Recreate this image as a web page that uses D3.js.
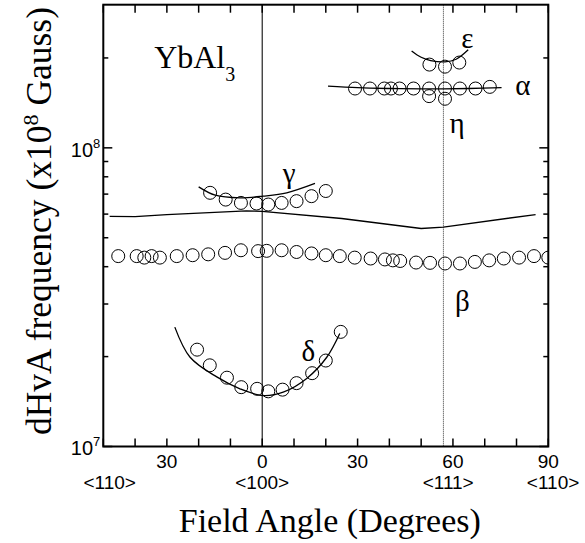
<!DOCTYPE html>
<html>
<head>
<meta charset="utf-8">
<script src="https://cdn.jsdelivr.net/npm/d3@7"></script>
<style>
  body { margin: 0; background: #fff; }
  .serif { font-family: "Liberation Serif", "Times New Roman", serif; }
  .sans { font-family: "Liberation Sans", Arial, sans-serif; }
</style>
</head>
<body>
<div id="chart"></div>
<script>
// frequencies in units of 10^7 Gauss, angles in degrees
var betaAngle = [-45.3,-39.5,-37.1,-34.8,-32.2,-26.9,-21.9,-17.0,-11.7,-6.7,-1.3,1.4,6.1,10.8,15.5,20.0,24.4,29.1,34.1,38.6,41.1,43.4,48.4,52.8,57.5,62.2,66.9,71.4,76.0,80.8,85.5,90];
var betaFreq  = [4.34,4.34,4.29,4.34,4.29,4.34,4.37,4.40,4.45,4.54,4.51,4.52,4.54,4.48,4.43,4.37,4.34,4.29,4.26,4.23,4.20,4.18,4.13,4.12,4.10,4.10,4.15,4.20,4.26,4.29,4.34,4.29];

var gammaAngle = [-16.4,-11.5,-6.7,-1.8,1.9,6.1,10.8,15.5,20.0];
var gammaFreq  = [7.07,6.71,6.54,6.51,6.46,6.54,6.63,6.89,7.17];
var gammaFitAngle = [-20,-14.8,-7,0.3,7.7,16.6];
var gammaFitFreq  = [7.40,6.94,6.80,6.89,7.07,7.60];

var deltaAngle = [-20.5,-16.5,-11.1,-6.6,-1.6,1.9,6.4,10.8,15.7,20.0,24.7];
var deltaFreq  = [2.11,1.87,1.70,1.58,1.56,1.53,1.55,1.63,1.76,1.94,2.42];
var deltaFitAngle = [-27.5,-22.7,-14.3,-7.0,0.3,6.6,14.0,20.3,24.4];
var deltaFitFreq  = [2.51,1.99,1.71,1.56,1.48,1.52,1.69,1.99,2.39];

var alphaAngle = [29.2,33.9,38.4,40.5,43.2,47.6,52.5,57.5,62.2,67.1,71.6];
var alphaFreq  = [15.8,15.8,15.8,15.8,15.8,15.8,15.8,15.8,15.8,15.8,16.0];
var alphaFitAngle = [20.7,30,40,50,57,65,75.3];
var alphaFitFreq  = [16.1,15.9,15.8,15.75,15.75,15.8,15.9];

var etaAngle = [52.5,57.5];
var etaFreq  = [14.9,14.6];

var epsAngle = [52.6,57.5,62.0];
var epsFreq  = [19.0,18.7,19.3];
var epsFitAngle = [47.0,50,53,57.5,61,64.8];
var epsFitFreq  = [21.1,20.1,19.6,19.4,19.8,21.3];

// unlabeled calculated branch
var calcAngle = [-48,-40,-30,-5,0,25,50,57,86];
var calcFreq  = [5.90,5.88,5.98,6.15,6.13,5.80,5.37,5.43,5.98];

var xTickValues = [-50,-40,-30,-20,-10,0,10,20,30,40,50,60,70,80,90];
var xLabelValues = [-30,0,30,60,90];
var dirNames  = ["<110>","<100>","<111>","<110>"];
var dirAngles = [-48,0,58.5,91.5];
var yMinor = [2,3,4,5,6,7,8,9,20];   // x10^7
var yMajor = [1,10];                   // x10^7
var yMajorExp = ["7","8"];

var branchNames = ["\u03b3","\u03b5","\u03b1","\u03b7","\u03b4","\u03b2"];
var branchAngle = [8.5,64.5,82,61.3,14.5,63];
var branchFreq  = [7.65,21.6,15.0,11.2,1.94,2.84];

var margin = {top: 4.7, left: 103.3},
    width = 445, height = 441.8;

var svg = d3.select("#chart").append("svg")
    .attr("width", 585).attr("height", 543);

var g = svg.append("g").attr("transform", "translate(" + margin.left + "," + margin.top + ")");

var x = d3.scaleLinear().domain([-50, 90]).range([0, width]);
var y = d3.scaleLog().domain([1e7, 3.015e8]).range([height, 0]);
function Y(v) { return y(v * 1e7); }

g.append("clipPath").attr("id", "clip")
  .append("rect").attr("width", width).attr("height", height);

// reference lines
g.append("line").attr("x1", x(0)).attr("x2", x(0)).attr("y1", 0).attr("y2", height)
  .attr("stroke", "#222").attr("stroke-width", 1.2);
g.append("line").attr("x1", x(57)).attr("x2", x(57)).attr("y1", 0).attr("y2", height)
  .attr("stroke", "#333").attr("stroke-width", 1).attr("stroke-dasharray", "1,1");

var line = d3.line().x(function(d) { return x(d[0]); }).y(function(d) { return Y(d[1]); });
var curve = d3.line().curve(d3.curveCatmullRom).x(function(d) { return x(d[0]); }).y(function(d) { return Y(d[1]); });

var plot = g.append("g").attr("clip-path", "url(#clip)");

function drawLine(a, f, gen) {
  plot.append("path").datum(d3.zip(a, f)).attr("d", gen)
    .attr("fill", "none").attr("stroke", "#000").attr("stroke-width", 1.3);
}
function drawPoints(a, f) {
  plot.append("g").selectAll("circle").data(d3.zip(a, f)).enter().append("circle")
    .attr("cx", function(d) { return x(d[0]); })
    .attr("cy", function(d) { return Y(d[1]); })
    .attr("r", 6.5).attr("fill", "none").attr("stroke", "#000").attr("stroke-width", 1);
}

drawLine(calcAngle, calcFreq, line);
drawLine(gammaFitAngle, gammaFitFreq, curve);
drawLine(deltaFitAngle, deltaFitFreq, curve);
drawLine(alphaFitAngle, alphaFitFreq, curve);
drawLine(epsFitAngle, epsFitFreq, curve);

drawPoints(betaAngle, betaFreq);
drawPoints(gammaAngle, gammaFreq);
drawPoints(deltaAngle, deltaFreq);
drawPoints(alphaAngle, alphaFreq);
drawPoints(etaAngle, etaFreq);
drawPoints(epsAngle, epsFreq);

// branch labels
g.selectAll(".branch").data(d3.zip(branchNames, branchAngle, branchFreq)).enter().append("text")
  .attr("class", "serif")
  .attr("x", function(d) { return x(d[1]); })
  .attr("y", function(d) { return Y(d[2]); })
  .attr("text-anchor", "middle")
  .style("font-size", "29px")
  .text(function(d) { return d[0]; });

// frame
g.append("rect").attr("width", width).attr("height", height)
  .attr("fill", "none").attr("stroke", "#000").attr("stroke-width", 2);

// x ticks, inward on bottom and top
g.selectAll(".xtb").data(xTickValues).enter().append("line")
  .attr("x1", function(d) { return x(d); }).attr("x2", function(d) { return x(d); })
  .attr("y1", height).attr("y2", height - 8).attr("stroke", "#000").attr("stroke-width", 1.5);
g.selectAll(".xtt").data(xTickValues).enter().append("line")
  .attr("x1", function(d) { return x(d); }).attr("x2", function(d) { return x(d); })
  .attr("y1", 0).attr("y2", 8).attr("stroke", "#000").attr("stroke-width", 1.5);

g.selectAll(".xl").data(xLabelValues).enter().append("text")
  .attr("class", "sans").attr("x", function(d) { return x(d); }).attr("y", height + 22)
  .attr("text-anchor", "middle").style("font-size", "19px")
  .text(function(d) { return Math.abs(d); });

g.selectAll(".dl").data(d3.zip(dirNames, dirAngles)).enter().append("text")
  .attr("class", "sans").attr("x", function(d) { return x(d[1]); }).attr("y", height + 43)
  .attr("text-anchor", "middle").style("font-size", "19px")
  .text(function(d) { return d[0]; });

// y ticks, inward on left and right
function yTicks(vals, len) {
  g.append("g").selectAll("line").data(vals).enter().append("line")
    .attr("x1", 0).attr("x2", len).attr("y1", function(d) { return Y(d); }).attr("y2", function(d) { return Y(d); })
    .attr("stroke", "#000").attr("stroke-width", 1.5);
  g.append("g").selectAll("line").data(vals).enter().append("line")
    .attr("x1", width).attr("x2", width - len).attr("y1", function(d) { return Y(d); }).attr("y2", function(d) { return Y(d); })
    .attr("stroke", "#000").attr("stroke-width", 1.5);
}
yTicks(yMinor, 5);
yTicks(yMajor, 9);

var yl = g.selectAll(".yl").data(d3.zip(yMajor, yMajorExp)).enter().append("text")
  .attr("class", "sans").attr("x", -3).attr("y", function(d) { return Y(d[0]) + 9; })
  .attr("text-anchor", "end").style("font-size", "20px");
yl.append("tspan").text("10");
yl.append("tspan").attr("dy", -9).style("font-size", "13px").text(function(d) { return d[1]; });

// compound label
var comp = g.append("text").attr("class", "serif").attr("x", x(-34)).attr("y", 63.5)
  .style("font-size", "32px");
comp.append("tspan").text("YbAl");
comp.append("tspan").attr("dy", 13).style("font-size", "20px").text("3");

// axis titles
svg.append("text").attr("class", "serif")
  .attr("x", margin.left + width / 2 + 4).attr("y", 532)
  .attr("text-anchor", "middle").style("font-size", "34px")
  .text("Field Angle (Degrees)");

var yt = svg.append("text").attr("class", "serif")
  .attr("transform", "translate(51," + 221 + ") rotate(-90)")
  .attr("text-anchor", "middle").style("font-size", "35.5px");
yt.append("tspan").text("dHvA frequency (x10");
yt.append("tspan").attr("dy", -13).style("font-size", "22px").text("8");
yt.append("tspan").attr("dy", 13).text(" Gauss)");
</script>
</body>
</html>
